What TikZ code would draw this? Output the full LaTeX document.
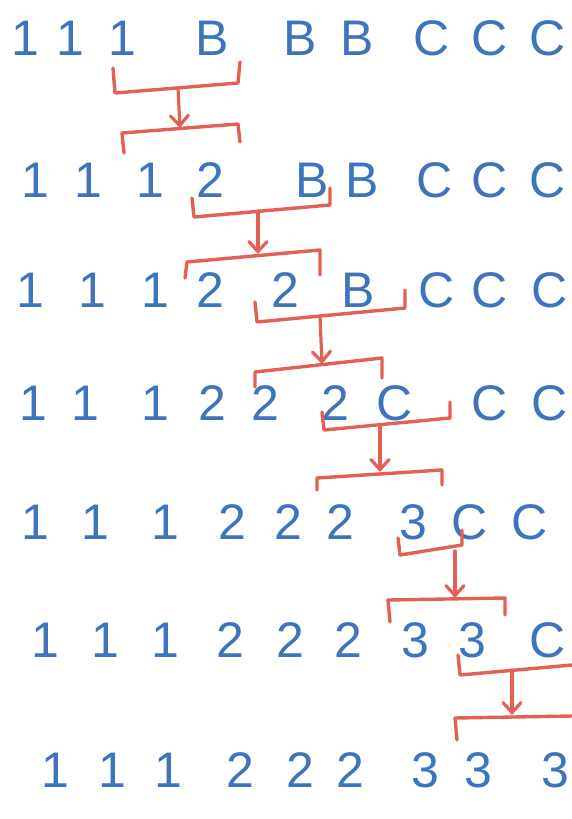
\documentclass[tikz,border=0pt]{standalone}
\usepackage{fontspec}
\setmainfont{Liberation Sans}
\usetikzlibrary{arrows.meta}
\definecolor{ink}{RGB}{62,116,188}
\definecolor{pen}{RGB}{228,96,84}

\begin{document}
\begin{tikzpicture}[x=1pt, y=-1pt,
    glyph/.style={text=ink, inner sep=0pt, font=\fontsize{50}{50}\selectfont},
    bracket/.style={draw=pen, line width=3.4pt, line join=round, line cap=round},
    push/.style={draw=pen, line width=3.2pt, line cap=round, -{Straight Barb[length=10pt, width=18pt, line cap=round]}}
  ]
  \clip (0,0) rectangle (572,819);
  \fill[white] (0,0) rectangle (572,819);

  % rows of symbols
  \foreach \x/\t [count=\i] in {25/1,70/1,122/1,212/B,300/B,357/B,432/C,490/C,548/C}
    \node[glyph] (r1-\i) at (\x,38) {\t};
  \foreach \x/\t [count=\i] in {35/1,88/1,150/1,210/2,312/B,362/B,435/C,490/C,548/C}
    \node[glyph] (r2-\i) at (\x,180) {\t};
  \foreach \x/\t [count=\i] in {30/1,92/1,155/1,210/2,285/2,358/B,437/C,490/C,550/C}
    \node[glyph] (r3-\i) at (\x,290) {\t};
  \foreach \x/\t [count=\i] in {33/1,85/1,155/1,212/2,265/2,335/2,395/C,490/C,550/C}
    \node[glyph] (r4-\i) at (\x,403) {\t};
  \foreach \x/\t [count=\i] in {35/1,95/1,165/1,232/2,288/2,340/2,413/3,470/C,530/C}
    \node[glyph] (r5-\i) at (\x,522) {\t};
  \foreach \x/\t [count=\i] in {45/1,105/1,165/1,230/2,290/2,348/2,415/3,472/3,548/C}
    \node[glyph] (r6-\i) at (\x,640) {\t};
  \foreach \x/\t [count=\i] in {55/1,112/1,168/1,240/2,300/2,350/2,425/3,478/3,555/3}
    \node[glyph] (r7-\i) at (\x,770) {\t};

  % brackets under and over each window
  \draw[bracket] (113,68) -- (115,93) -- (238,83) -- (240,62);
  \draw[bracket] (124,153) -- (122,133) -- (238,124) -- (240,142);
  \draw[bracket] (192,198) -- (194,217) -- (330,205) -- (330,188);
  \draw[bracket] (185,278) -- (187,262) -- (320,250) -- (320,275);
  \draw[bracket] (255,302) -- (257,322) -- (405,308) -- (405,290);
  \draw[bracket] (255,387) -- (255,372) -- (382,358) -- (382,378);
  \draw[bracket] (322,412) -- (324,430) -- (450,418) -- (450,402);
  \draw[bracket] (317,490) -- (317,478) -- (442,470) -- (442,485);
  \draw[bracket] (398,538) -- (400,555) -- (462,545) -- (462,530);
  \draw[bracket] (390,622) -- (388,600) -- (505,598) -- (505,615);
  \draw[bracket] (458,655) -- (460,675) -- (572,665);
  \draw[bracket] (457,740) -- (455,718) -- (572,716);

  % ends of the arrows on the brackets
  \coordinate (lo1) at (178,88);
  \coordinate (hi1) at (180,128);
  \coordinate (lo2) at (258,211);
  \coordinate (hi2) at (258,254);
  \coordinate (lo3) at (320,316);
  \coordinate (hi3) at (322,364);
  \coordinate (lo4) at (380,425);
  \coordinate (hi4) at (380,472);
  \coordinate (lo5) at (455,551);
  \coordinate (hi5) at (455,598);
  \coordinate (lo6) at (512,670);
  \coordinate (hi6) at (512,715);

  \foreach \k in {1,...,6}
    \draw[push] (lo\k) -- (hi\k);
\end{tikzpicture}
\end{document}
